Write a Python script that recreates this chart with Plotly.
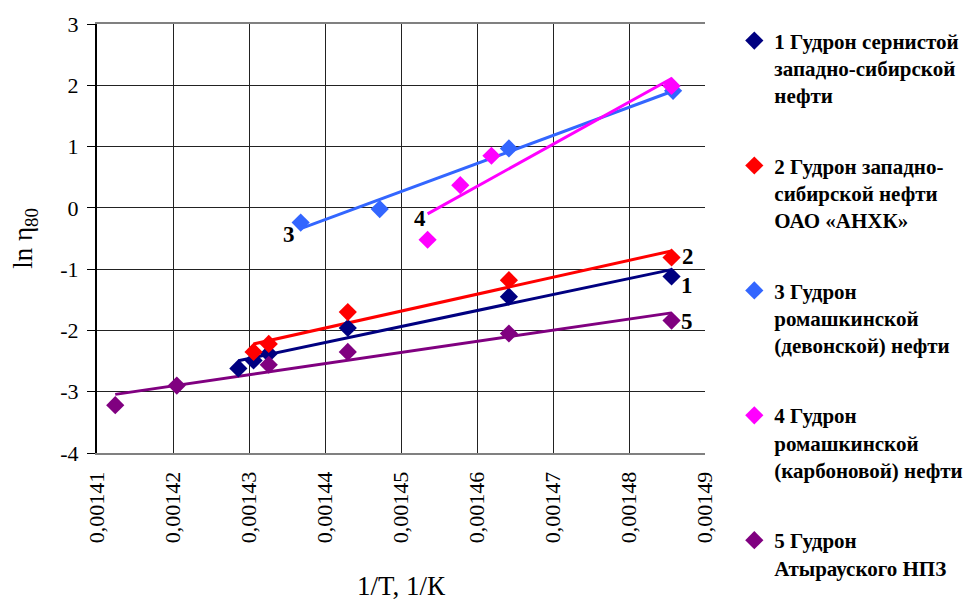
import numpy as np
import plotly.graph_objects as go

# ---- data ----
names = [
    "1 Гудрон сернистой<br>западно-сибирской<br>нефти",
    "2 Гудрон западно-<br>сибирской нефти<br>ОАО «АНХК»",
    "3 Гудрон<br>ромашкинской<br>(девонской) нефти",
    "4 Гудрон<br>ромашкинской<br>(карбоновой) нефти",
    "5 Гудрон<br>Атырауского НПЗ",
]
colors = ["#000080", "#FF0000", "#3366FF", "#FF00FF", "#800080"]

x1 = [0.0014286, 0.0014306, 0.0014326, 0.0014430, 0.0014642, 0.0014856]
y1 = [-2.62, -2.49, -2.38, -1.96, -1.45, -1.12]

x2 = [0.0014306, 0.0014326, 0.0014430, 0.0014642, 0.0014856]
y2 = [-2.35, -2.22, -1.70, -1.18, -0.81]

x3 = [0.0014368, 0.0014472, 0.0014642, 0.0014858]
y3 = [-0.24, -0.02, 0.97, 1.91]

x4 = [0.0014535, 0.0014578, 0.0014619, 0.0014856]
y4 = [-0.52, 0.37, 0.85, 1.99]

x5 = [0.0014124, 0.0014205, 0.0014326, 0.0014430, 0.0014642, 0.0014856]
y5 = [-3.22, -2.90, -2.56, -2.35, -2.05, -1.84]

xs = [x1, x2, x3, x4, x5]
ys = [y1, y2, y3, y4, y5]

x_tickvals = [0.00141, 0.00142, 0.00143, 0.00144, 0.00145, 0.00146, 0.00147, 0.00148, 0.00149]
x_ticktext = ["0,00141", "0,00142", "0,00143", "0,00144", "0,00145", "0,00146", "0,00147", "0,00148", "0,00149"]
y_tickvals = [-4, -3, -2, -1, 0, 1, 2, 3]
y_ticktext = ["-4", "-3", "-2", "-1", "0", "1", "2", "3"]

label_text = ["1", "2", "3", "4", "5"]
label_x = [0.0014876, 0.0014878, 0.0014352, 0.0014525, 0.0014876]
label_y = [-1.27, -0.80, -0.44, -0.17, -1.85]

FONT = "Liberation Serif"

fig = go.Figure()

# trendlines (linear fits of each series)
for i in range(5):
    xa = np.array(xs[i])
    ya = np.array(ys[i])
    k, b = np.polyfit(xa, ya, 1)
    xl = [xa.min(), xa.max()]
    fig.add_trace(go.Scatter(
        x=xl, y=[k * v + b for v in xl], mode="lines",
        line=dict(color=colors[i], width=3), showlegend=False, hoverinfo="skip"))

# markers
for i in range(5):
    fig.add_trace(go.Scatter(
        x=xs[i], y=ys[i], mode="markers", name="<b>" + names[i] + "</b>",
        legendgroup=str(i),
        marker=dict(symbol="diamond", size=14, color=colors[i])))

for t, lx, ly in zip(label_text, label_x, label_y):
    fig.add_annotation(x=lx, y=ly, text="<b>" + t + "</b>", showarrow=False,
                       font=dict(family=FONT, size=23, color="black"))

fig.update_layout(
    width=971, height=593,
    margin=dict(l=89, r=274, t=16, b=148, autoexpand=False),
    paper_bgcolor="white", plot_bgcolor="white",
    font=dict(family=FONT, color="black"),
    legend=dict(
        xref="container", yref="container",
        x=0.748, y=0.979, xanchor="left", yanchor="top",
        font=dict(family=FONT, size=21, color="black"),
        valign="top", tracegroupgap=40, itemwidth=30,
        maxheight=600,
        bgcolor="rgba(0,0,0,0)"),
    xaxis=dict(
        range=[0.00141, 0.00149], automargin=False,
        tickvals=x_tickvals, ticktext=x_ticktext, tickangle=-90,
        tickfont=dict(family=FONT, size=22),
        showgrid=True, gridcolor="#222222", gridwidth=1,
        showline=True, linecolor="#808080", linewidth=2, mirror=True,
        zeroline=False, ticks="", ticklabelstandoff=8,
        title=dict(text="1/T, 1/К", font=dict(family=FONT, size=27), standoff=36)),
    yaxis=dict(
        range=[-4, 3], automargin=False,
        tickvals=y_tickvals, ticktext=y_ticktext,
        tickfont=dict(family=FONT, size=22),
        showgrid=True, gridcolor="#222222", gridwidth=1,
        showline=True, linecolor="#000000", linewidth=2,
        zeroline=False, ticks="outside", ticklen=8, tickcolor="black",
        ticklabelstandoff=4,
        title=dict(text="ln η<sub>80</sub>", font=dict(family=FONT, size=27), standoff=29)),
)

fig.write_html("out.html")
